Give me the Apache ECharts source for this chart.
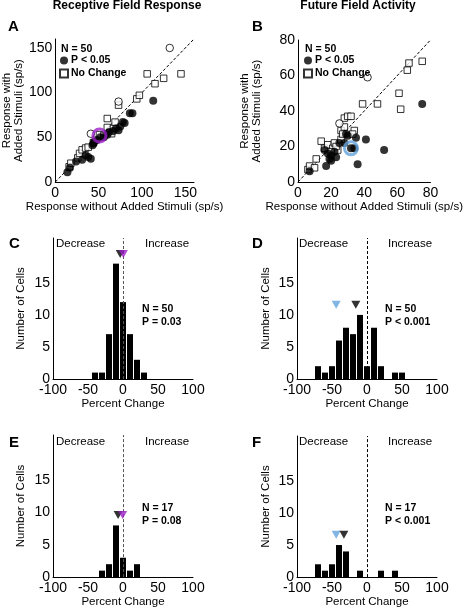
<!DOCTYPE html>
<html>
<head>
<meta charset="utf-8">
<script src="https://cdn.jsdelivr.net/npm/echarts@6/dist/echarts.min.js"></script>
<style>
html,body{margin:0;padding:0;background:#fff;}
#chart{width:465px;height:609px;}
</style>
</head>
<body>
<div id="chart"></div>
<script>
// ---------- DATA ----------
// Panel A (Receptive Field Response): [without, with] in sp/s
const aSignificant = [[14,11],[17,16],[24,23],[31,25],[35,30],[38,28],[41,26],[43,41],[44,43],[45,45],[48,47],[52,50],[56,50],[60,53],[62,56],[67,57],[70,60],[73,58],[75,62],[78,67],[80,66],[86,77],[89,77],[113,91]];
const aNoChange = [[16,17],[18,21],[26,27],[28,32],[31,36],[35,38],[38,39],[51,53],[56,52],[60,61],[63,55],[65,54],[67,60],[60,71],[69,67],[73,86],[94,93],[97,97],[106,121],[115,110],[125,116],[145,121],[44,44]];
const aOther = [[132,150],[73,90],[41,54]];
const aMean = [[51,52]];
// Panel B (Future Field Activity)
const bSignificant = [[7,6],[17,9],[36,10],[52,18],[41,24],[75,44],[29,27],[35,25],[32,19],[34,19],[19,13],[20,15],[16,18],[25,22],[22,17],[18,16],[30,26],[28,22],[23,14],[20,12]];
const bNoChange = [[6,7],[7,9],[10,8],[11,13],[14,23],[16,19],[18,21],[21,19],[24,18],[22,22],[26,29],[28,31],[34,29],[33,27],[28,36],[30,37],[32,37],[39,44],[48,44],[61,50],[62,41],[66,63],[67,67],[75,68],[26,24],[23,20],[20,17],[27,27]];
const bOther = [[42,59],[25,33]];
const bMean = [[32,19]];
// Histograms: bin centre (percent change) and count
const cBins = [-40,-30,-20,-10,0,10,20,30];
const cCounts = [1,1,7,18,12,7,3,1];
const dBins = [-70,-60,-50,-40,-30,-20,-10,0,10,20,40,50];
const dCounts = [2,1,2,6,8,7,10,2,8,2,1,1];
const eBins = [-30,-20,-10,0,10,20];
const eCounts = [1,2,8,3,1,2];
const fBins = [-70,-60,-50,-40,-30,-10,20,40];
const fCounts = [2,1,2,5,4,1,1,1];
// Mean markers (x = mean percent change, y = height drawn)
const cMeanBlack = [[-4,19.5]], cMeanPurple = [[0.5,19.5]];
const dMeanBlue = [[-44,11.6]], dMeanBlack = [[-16,11.6]];
const eMeanBlack = [[-7,9.6]], eMeanPurple = [[-0.5,9.6]];
const fMeanBlue = [[-44,6.6]], fMeanBlack = [[-33,6.6]];
const scatterXTicksA = [0,50,100,150];
const histYTicks = [0,5,10,15];

// ---------- STYLE ----------
const PURPLE = '#9b1fc8', BLUE = '#62a2dc';
const TICKFONT = "'Liberation Sans Narrow','Arial Narrow','Liberation Sans',Arial,sans-serif";
const FONT = "'Liberation Sans',Arial,sans-serif";
const pair = (xs, ys) => xs.map((x,i)=>[x, ys[i]]);

function baseAxis(extra){
  return Object.assign({
    type:'value',
    axisLine:{show:true, onZero:false, lineStyle:{color:'#000', width:1}},
    axisTick:{show:false},
    splitLine:{show:false},
    axisLabel:{color:'#000', fontSize:14, fontFamily:TICKFONT, margin:4, hideOverlap:false},
    nameTextStyle:{color:'#000', fontSize:11.5, fontFamily:FONT, lineHeight:12},
    nameLocation:'middle'
  }, extra);
}

const grids = [
  {left:52, top:39, width:142, height:143},
  {left:298, top:40, width:140, height:142},
  {left:53, top:238, width:140, height:141},
  {left:297, top:238, width:140, height:141},
  {left:53, top:435, width:140, height:144},
  {left:297, top:436, width:140, height:143}
];

const histY = (i, gap) => baseAxis({gridIndex:i, min:0, max:22, interval:5, name:'Number of Cells', nameRotate:90, nameGap:gap,
  axisLabel:{color:'#000', fontSize:14, fontFamily:TICKFONT, margin:3, formatter:v=>histYTicks.includes(v)?String(v):''}});
const histX = (i) => baseAxis({gridIndex:i, min:-100, max:100, interval:50, name:'Percent Change', nameGap:18});

const xAxes = [
  baseAxis({gridIndex:0, min:0, max:160, interval:50, name:'Response without Added Stimuli (sp/s)', nameGap:19,
    axisLabel:{color:'#000', fontSize:14, fontFamily:TICKFONT, margin:4, formatter:v=>scatterXTicksA.includes(v)?String(v):''}}),
  baseAxis({gridIndex:1, min:0, max:80, interval:20, name:'Response without Added Stimuli (sp/s)', nameGap:19}),
  histX(2), histX(3), histX(4), histX(5)
];
const yAxes = [
  baseAxis({gridIndex:0, min:0, max:160, interval:50, name:'Response with\nAdded Stimuli (sp/s)', nameRotate:90, nameGap:26,
    axisLabel:{color:'#000', fontSize:14, fontFamily:TICKFONT, margin:3, formatter:v=>scatterXTicksA.includes(v)?String(v):''}}),
  baseAxis({gridIndex:1, min:0, max:80, interval:20, name:'Response with\nAdded Stimuli (sp/s)', nameRotate:90, nameGap:35,
    axisLabel:{color:'#000', fontSize:14, fontFamily:TICKFONT, margin:3}}),
  histY(2,26), histY(3,25), histY(4,26), histY(5,25)
];

function diag(i, m){
  return {type:'line', xAxisIndex:i, yAxisIndex:i, data:[[0,0],[m,m]], symbol:'none', silent:true,
    lineStyle:{color:'#000', width:1, type:[3,2]}, z:1};
}
function scat(i, name, data, kind){
  const s = {type:'scatter', name:name, xAxisIndex:i, yAxisIndex:i, data:data, silent:true};
  if(kind==='filled'){ s.symbol='circle'; s.symbolSize=8; s.itemStyle={color:'#000'}; s.z=4; }
  else if(kind==='square'){ s.symbol='rect'; s.symbolSize=6.5; s.itemStyle={color:'#fff', borderColor:'#000', borderWidth:1}; s.z=3; }
  else { s.symbol='circle'; s.symbolSize=7.5; s.itemStyle={color:'#fff', borderColor:'#000', borderWidth:1}; s.z=3; }
  return s;
}
function ring(i, data, color){
  return {type:'scatter', xAxisIndex:i, yAxisIndex:i, data:data, symbol:'circle', symbolSize:13, silent:true,
    itemStyle:{color:'rgba(0,0,0,0)', borderColor:color, borderWidth:3}, z:6};
}
function bars(i, xs, ys, lineColor){
  return {type:'bar', xAxisIndex:i, yAxisIndex:i, data:pair(xs, ys), barWidth:6, silent:true,
    itemStyle:{color:'#000'}, z:2,
    markLine:{silent:true, symbol:'none', label:{show:false},
      lineStyle:{color:lineColor, width:1, type:[3,2]}, data:[{xAxis:0}]}};
}
function tri(i, data, color, z){
  return {type:'scatter', xAxisIndex:i, yAxisIndex:i, data:data, symbol:'triangle', symbolRotate:180,
    symbolSize:[9,8], silent:true, itemStyle:{color:color}, z:z};
}

const series = [
  diag(0,160), diag(1,80),
  scat(0,'No Change',aNoChange,'square'), scat(0,'Other',aOther,'open'), scat(0,'P < 0.05',aSignificant,'filled'), ring(0,aMean,PURPLE),
  scat(1,'No Change',bNoChange,'square'), scat(1,'Other',bOther,'open'), scat(1,'P < 0.05',bSignificant,'filled'), ring(1,bMean,BLUE),
  bars(2,cBins,cCounts,'#555'), tri(2,cMeanBlack,'#000',5), tri(2,cMeanPurple,PURPLE,6),
  bars(3,dBins,dCounts,'#000'), tri(3,dMeanBlue,BLUE,5), tri(3,dMeanBlack,'#000',6),
  bars(4,eBins,eCounts,'#555'), tri(4,eMeanBlack,'#000',5), tri(4,eMeanPurple,PURPLE,6),
  bars(5,fBins,fCounts,'#000'), tri(5,fMeanBlue,BLUE,5), tri(5,fMeanBlack,'#000',6)
];

const legendCommon = {orient:'vertical', itemWidth:8, itemHeight:8, itemGap:2, padding:0, selectedMode:false,
  textStyle:{fontSize:10.5, fontWeight:'bold', fontFamily:FONT, color:'#000', padding:[0,0,0,-2]},
  data:['P < 0.05','No Change']};

const titleStyle = {fontSize:12, fontWeight:'bold', fontFamily:FONT, color:'#000'};
const letterStyle = {fontSize:15, fontWeight:'bold', fontFamily:FONT, color:'#000'};
const titles = [
  {text:'Receptive Field Response', left:127, top:0, textAlign:'center', textStyle:titleStyle, padding:0},
  {text:'Future Field Activity', left:358, top:0, textAlign:'center', textStyle:titleStyle, padding:0},
  {text:'A', left:8, top:19, textStyle:letterStyle, padding:0},
  {text:'B', left:252, top:19, textStyle:letterStyle, padding:0},
  {text:'C', left:9, top:236, textStyle:letterStyle, padding:0},
  {text:'D', left:252, top:236, textStyle:letterStyle, padding:0},
  {text:'E', left:9, top:435, textStyle:letterStyle, padding:0},
  {text:'F', left:252, top:435, textStyle:letterStyle, padding:0}
];

function txt(x, y, s, bold, size){
  return {type:'text', left:x, top:y, silent:true,
    style:{text:s, fill:'#000', font:(bold?'bold ':'')+size+'px '+FONT, lineHeight:size+2}};
}
const graphics = [
  txt(61,43,'N = 50',true,10.5),
  txt(305,43,'N = 50',true,10.5),
  txt(56,237,'Decrease',false,11.5), txt(145,237,'Increase',false,11.5),
  txt(299,237,'Decrease',false,11.5), txt(388,237,'Increase',false,11.5),
  txt(56,435,'Decrease',false,11.5), txt(145,435,'Increase',false,11.5),
  txt(299,435,'Decrease',false,11.5), txt(388,435,'Increase',false,11.5),
  txt(142,303,'N = 50\nP = 0.03',true,10.5),
  txt(385,303,'N = 50\nP < 0.001',true,10.5),
  txt(142,502,'N = 17\nP = 0.08',true,10.5),
  txt(385,502,'N = 17\nP < 0.001',true,10.5)
];

const chart = echarts.init(document.getElementById('chart'), null, {renderer:'canvas'});
chart.setOption({
  animation:false,
  backgroundColor:'#fff',
  title:titles,
  legend:[Object.assign({left:59, top:55}, legendCommon), Object.assign({left:303, top:55}, legendCommon)],
  grid:grids,
  xAxis:xAxes,
  yAxis:yAxes,
  series:series,
  graphic:graphics
});
</script>
</body>
</html>
